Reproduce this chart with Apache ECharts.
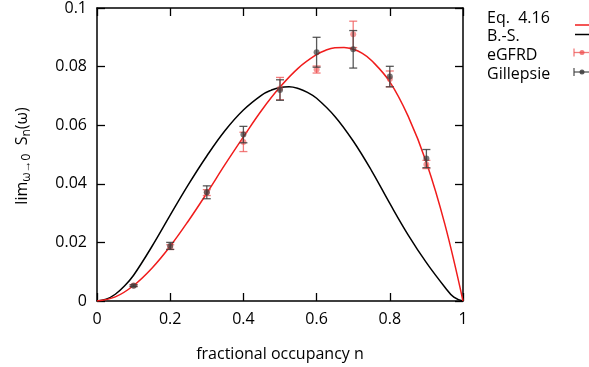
<!DOCTYPE html>
<html>
<head>
<meta charset="utf-8">
<script src="https://cdn.jsdelivr.net/npm/echarts@6/dist/echarts.min.js"></script>
<style>html,body{margin:0;padding:0;background:#fff;}#c{width:589px;height:367px;}</style>
</head>
<body>
<div id="c"></div>
<script>
// ---- data ----
const xTickLabels = ['0', '0.2', '0.4', '0.6', '0.8', '1'];
const yTickLabels = ['0', '0.02', '0.04', '0.06', '0.08', '0.1'];

const eqN = [0, 0.05, 0.1, 0.15, 0.2, 0.25, 0.3, 0.35, 0.4, 0.45, 0.5, 0.55, 0.6, 0.625, 0.65, 0.675, 0.7, 0.725, 0.75, 0.8, 0.85, 0.9, 0.95, 1];
const eqValues = [0, 0.0014, 0.0053, 0.0112, 0.0187, 0.0274, 0.0368, 0.0466, 0.056, 0.0651, 0.073, 0.0795, 0.0841, 0.0856, 0.0864, 0.0865, 0.0859, 0.0845, 0.0821, 0.0748, 0.0631, 0.0473, 0.0264, 0];
const bsN = [0, 0.025, 0.05, 0.075, 0.1, 0.15, 0.2, 0.25, 0.3, 0.35, 0.4, 0.45, 0.475, 0.5, 0.525, 0.55, 0.575, 0.6, 0.65, 0.7, 0.75, 0.8, 0.85, 0.9, 0.95, 0.975, 1];
const bsValues = [0, 0.0006, 0.0023, 0.0051, 0.0088, 0.0186, 0.0293, 0.0398, 0.0495, 0.0582, 0.0652, 0.0703, 0.0719, 0.0729, 0.0731, 0.0725, 0.0712, 0.0692, 0.063, 0.0546, 0.0445, 0.0333, 0.0226, 0.0131, 0.0048, 0.0013, 0];

const pointN = [0.1, 0.2, 0.3, 0.4, 0.5, 0.6, 0.7, 0.8, 0.9];
const egfrdValues = [0.0053, 0.0184, 0.037, 0.0543, 0.0725, 0.079, 0.091, 0.0758, 0.0466];
const egfrdErrors = [0.0003, 0.0008, 0.001, 0.0033, 0.0038, 0.0012, 0.0045, 0.0027, 0.0014];
const gillValues = [0.0052, 0.0188, 0.0371, 0.0568, 0.072, 0.0849, 0.0859, 0.0766, 0.0486];
const gillErrors = [0.0003, 0.0012, 0.0022, 0.0028, 0.0035, 0.0051, 0.0064, 0.0035, 0.0031];

const legendNames = ['Eq.  4.16', 'B.-S.', 'eGFRD', 'Gillepsie'];

// ---- styling ----
const FONT = 'Open Sans';
const RED = '#f01c1c';
const EG = 'rgba(238,80,80,0.75)';
const GI = 'rgba(60,60,60,0.85)';

const chart = echarts.init(document.getElementById('c'), null, {renderer: 'canvas'});

function pairs(xs, ys) { return xs.map((x, i) => [x, ys[i]]); }
function errData(xs, ys, es) { return xs.map((x, i) => [x, ys[i] - es[i], ys[i] + es[i]]); }

function errRender(color) {
  return function (params, api) {
    const lo = api.coord([api.value(0), api.value(1)]);
    const hi = api.coord([api.value(0), api.value(2)]);
    const w = 4;
    const st = {stroke: color, lineWidth: 1.3};
    return {
      type: 'group',
      children: [
        {type: 'line', shape: {x1: lo[0], y1: lo[1], x2: hi[0], y2: hi[1]}, style: st},
        {type: 'line', shape: {x1: lo[0] - w, y1: lo[1], x2: lo[0] + w, y2: lo[1]}, style: st},
        {type: 'line', shape: {x1: hi[0] - w, y1: hi[1], x2: hi[0] + w, y2: hi[1]}, style: st}
      ]
    };
  };
}

function axisBase() {
  return {
    min: 0,
    axisLine: {show: true, onZero: false, lineStyle: {color: '#000', width: 1.5}},
    axisTick: {show: true, inside: true, length: 8, lineStyle: {color: '#000', width: 1.3}},
    splitLine: {show: false}
  };
}

const option = {
  animation: false,
  backgroundColor: '#fff',
  grid: {left: 97, right: 126, top: 8, bottom: 64, containLabel: false},
  xAxis: [
    Object.assign(axisBase(), {
      type: 'value', max: 1, interval: 0.2, position: 'bottom',
      name: 'fractional occupancy n', nameLocation: 'middle', nameGap: 45,
      nameTextStyle: {fontFamily: FONT, fontSize: 16, color: '#000'},
      axisLabel: {show: true, margin: 10, fontFamily: FONT, fontSize: 16, color: '#000',
        formatter: (v) => xTickLabels[Math.round(v / 0.2)]}
    }),
    Object.assign(axisBase(), {
      type: 'value', max: 1, interval: 0.2, position: 'top', axisLabel: {show: false}
    })
  ],
  yAxis: [
    Object.assign(axisBase(), {
      type: 'value', max: 0.1, interval: 0.02, position: 'left',
      axisLabel: {show: true, margin: 10, fontFamily: FONT, fontSize: 16, color: '#000',
        formatter: (v) => yTickLabels[Math.round(v / 0.02)]}
    }),
    Object.assign(axisBase(), {
      type: 'value', max: 0.1, interval: 0.02, position: 'right', axisLabel: {show: false}
    })
  ],
  series: [
    {name: legendNames[1], type: 'line', data: pairs(bsN, bsValues), smooth: 0.4, symbol: 'none',
      lineStyle: {color: '#000', width: 1.5}, z: 2},
    {name: legendNames[0], type: 'line', data: pairs(eqN, eqValues), smooth: 0.4, symbol: 'none',
      lineStyle: {color: RED, width: 1.5}, z: 3},
    {name: legendNames[2] + ' err', type: 'custom', data: errData(pointN, egfrdValues, egfrdErrors),
      renderItem: errRender(EG), encode: {x: 0, y: [1, 2]}, z: 4},
    {name: legendNames[2], type: 'scatter', data: pairs(pointN, egfrdValues), symbol: 'circle', symbolSize: 6,
      itemStyle: {color: EG}, z: 5},
    {name: legendNames[3] + ' err', type: 'custom', data: errData(pointN, gillValues, gillErrors),
      renderItem: errRender(GI), encode: {x: 0, y: [1, 2]}, z: 6},
    {name: legendNames[3], type: 'scatter', data: pairs(pointN, gillValues), symbol: 'circle', symbolSize: 6,
      itemStyle: {color: GI}, z: 7}
  ],
  graphic: [
    {
      type: 'text', x: 22, y: 156, rotation: Math.PI / 2,
      style: {
        text: '{a|lim}{s|ω→0}{a|  S}{s|n}{a|(ω)}',
        align: 'center', verticalAlign: 'middle',
        rich: {
          a: {fontFamily: FONT, fontSize: 16, fill: '#000', lineHeight: 22, verticalAlign: 'middle'},
          s: {fontFamily: FONT, fontSize: 12, fill: '#000', lineHeight: 22, verticalAlign: 'bottom', padding: [10, 0, 0, 0]}
        }
      }
    },
    {type: 'text', x: 487, y: 18, style: {text: legendNames[0], fontFamily: FONT, fontSize: 16, fill: '#000', verticalAlign: 'middle'}},
    {type: 'text', x: 487, y: 36.5, style: {text: legendNames[1], fontFamily: FONT, fontSize: 16, fill: '#000', verticalAlign: 'middle'}},
    {type: 'text', x: 487, y: 55.5, style: {text: legendNames[2], fontFamily: FONT, fontSize: 16, fill: '#000', verticalAlign: 'middle'}},
    {type: 'text', x: 487, y: 74.5, style: {text: legendNames[3], fontFamily: FONT, fontSize: 16, fill: '#000', verticalAlign: 'middle'}},
    {type: 'line', shape: {x1: 575, y1: 25, x2: 595, y2: 25}, style: {stroke: RED, lineWidth: 1.5}},
    {type: 'line', shape: {x1: 575, y1: 34.5, x2: 595, y2: 34.5}, style: {stroke: '#000', lineWidth: 1.5}},
    {type: 'line', shape: {x1: 574, y1: 52.5, x2: 595, y2: 52.5}, style: {stroke: EG, lineWidth: 1.3}},
    {type: 'line', shape: {x1: 574, y1: 48.5, x2: 574, y2: 56.5}, style: {stroke: EG, lineWidth: 1.3}},
    {type: 'circle', shape: {cx: 582, cy: 52.5, r: 2.5}, style: {fill: EG}},
    {type: 'line', shape: {x1: 574, y1: 72, x2: 595, y2: 72}, style: {stroke: GI, lineWidth: 1.3}},
    {type: 'line', shape: {x1: 574, y1: 68, x2: 574, y2: 76}, style: {stroke: GI, lineWidth: 1.3}},
    {type: 'circle', shape: {cx: 582, cy: 72, r: 2.5}, style: {fill: GI}}
  ]
};
chart.setOption(option);
</script>
</body>
</html>
